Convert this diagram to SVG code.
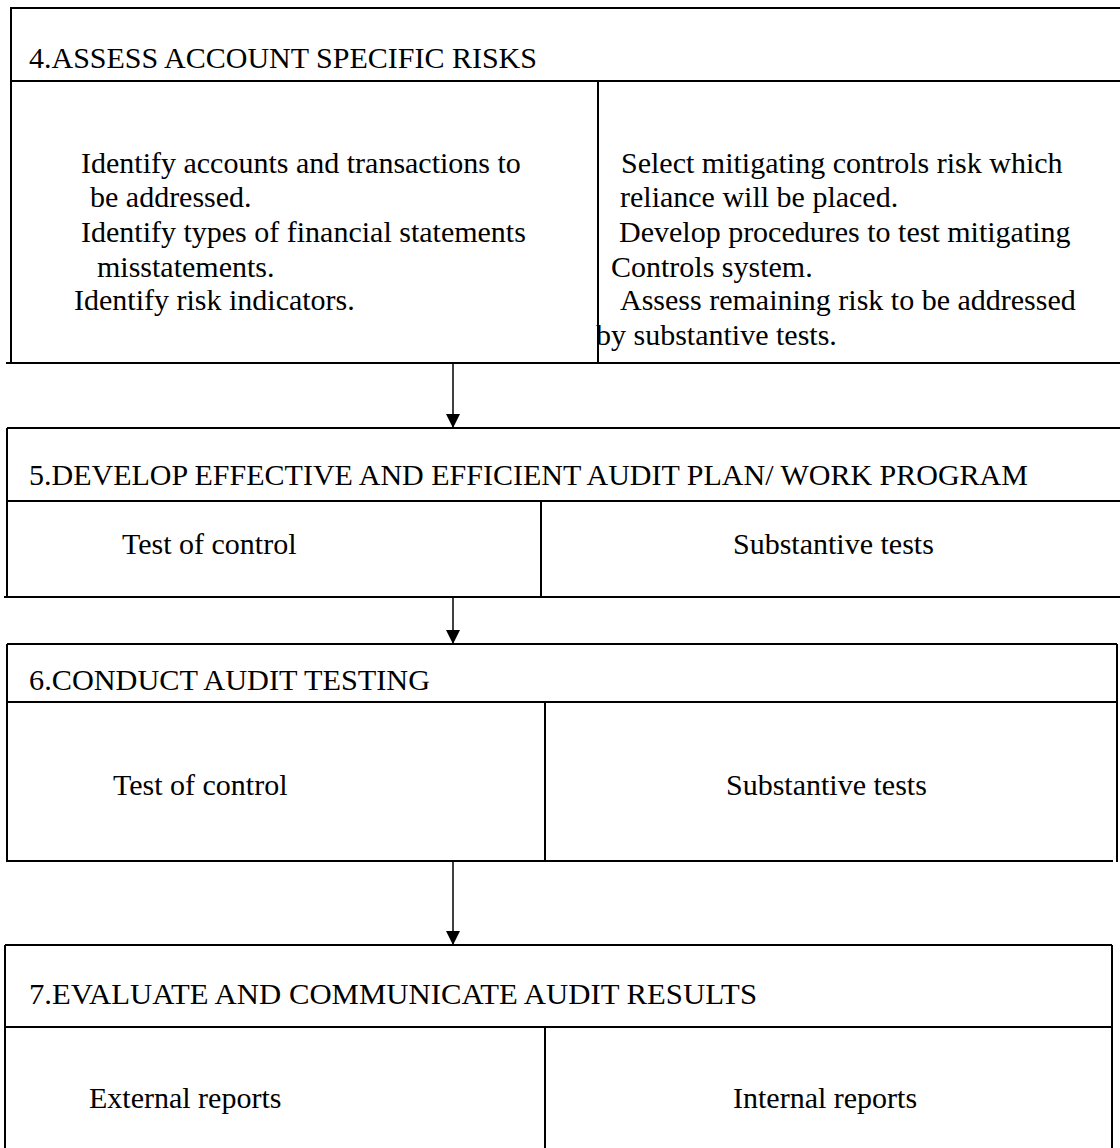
<svg xmlns="http://www.w3.org/2000/svg" width="1120" height="1148" viewBox="0 0 1120 1148">
<style>
  .b { stroke: #000; stroke-width: 2; fill: none; }
  .t { font-family: "Liberation Serif", "Times New Roman", serif; font-size: 30px; fill: #000; }
  .c { stroke: #000; stroke-width: 1.5; fill: none; }
</style>
<defs>
  <marker id="arr" markerUnits="userSpaceOnUse" markerWidth="14" markerHeight="14" refX="14" refY="7" orient="auto">
    <path d="M0,0 L14,7 L0,14 z" fill="#000"/>
  </marker>
</defs>
<rect width="1120" height="1148" fill="#fff"/>

<g id="node4">
  <line class="b" x1="10" y1="8" x2="1120" y2="8"/>
  <line class="b" x1="11" y1="8" x2="11" y2="363"/>
  <line class="b" x1="11" y1="81" x2="1120" y2="81"/>
  <line class="b" x1="6" y1="363" x2="1120" y2="363"/>
  <line class="b" x1="598" y1="81" x2="598" y2="363"/>
  <text class="t" x="29" y="68">4.ASSESS ACCOUNT SPECIFIC RISKS</text>
  <text class="t" x="81" y="173">Identify accounts and transactions to</text>
  <text class="t" x="90" y="207">be addressed.</text>
  <text class="t" x="81" y="242">Identify types of financial statements</text>
  <text class="t" x="97" y="277">misstatements.</text>
  <text class="t" x="74" y="310">Identify risk indicators.</text>
  <text class="t" x="621" y="173">Select mitigating controls risk which</text>
  <text class="t" x="620" y="207">reliance will be placed.</text>
  <text class="t" x="619" y="242">Develop procedures to test mitigating</text>
  <text class="t" x="611" y="277">Controls system.</text>
  <text class="t" x="620" y="310">Assess remaining risk to be addressed</text>
  <text class="t" x="596" y="345">by substantive tests.</text>
</g>

<g id="node5">
  <line class="b" x1="7" y1="428" x2="1120" y2="428"/>
  <line class="b" x1="7" y1="428" x2="7" y2="597"/>
  <line class="b" x1="7" y1="501" x2="1120" y2="501"/>
  <line class="b" x1="4" y1="597" x2="1120" y2="597"/>
  <line class="b" x1="541" y1="501" x2="541" y2="597"/>
  <text class="t" x="29" y="485">5.DEVELOP EFFECTIVE AND EFFICIENT AUDIT PLAN/ WORK PROGRAM</text>
  <text class="t" x="122" y="554">Test of control</text>
  <text class="t" x="733" y="554">Substantive tests</text>
</g>

<g id="node6">
  <line class="b" x1="7" y1="644" x2="1117" y2="644"/>
  <line class="b" x1="7" y1="644" x2="7" y2="861"/>
  <line class="b" x1="1117" y1="644" x2="1117" y2="862"/>
  <line class="b" x1="7" y1="702" x2="1117" y2="702"/>
  <line class="b" x1="6" y1="861" x2="1113" y2="861"/>
  <line class="b" x1="545" y1="702" x2="545" y2="861"/>
  <text class="t" x="29" y="690" textLength="401" lengthAdjust="spacingAndGlyphs">6.CONDUCT AUDIT TESTING</text>
  <text class="t" x="113" y="795">Test of control</text>
  <text class="t" x="726" y="795">Substantive tests</text>
</g>

<g id="node7">
  <line class="b" x1="5" y1="945" x2="1112" y2="945"/>
  <line class="b" x1="5" y1="945" x2="5" y2="1148"/>
  <line class="b" x1="1112" y1="945" x2="1112" y2="1148"/>
  <line class="b" x1="5" y1="1027" x2="1112" y2="1027"/>
  <line class="b" x1="545" y1="1027" x2="545" y2="1148"/>
  <text class="t" x="29" y="1004" textLength="728" lengthAdjust="spacingAndGlyphs">7.EVALUATE AND COMMUNICATE AUDIT RESULTS</text>
  <text class="t" x="89" y="1108">External reports</text>
  <text class="t" x="733" y="1108">Internal reports</text>
</g>

<g id="connectors">
  <line class="c" x1="453" y1="363" x2="453" y2="428" marker-end="url(#arr)"/>
  <line class="c" x1="453" y1="597" x2="453" y2="644" marker-end="url(#arr)"/>
  <line class="c" x1="453" y1="861" x2="453" y2="945" marker-end="url(#arr)"/>
</g>
</svg>
